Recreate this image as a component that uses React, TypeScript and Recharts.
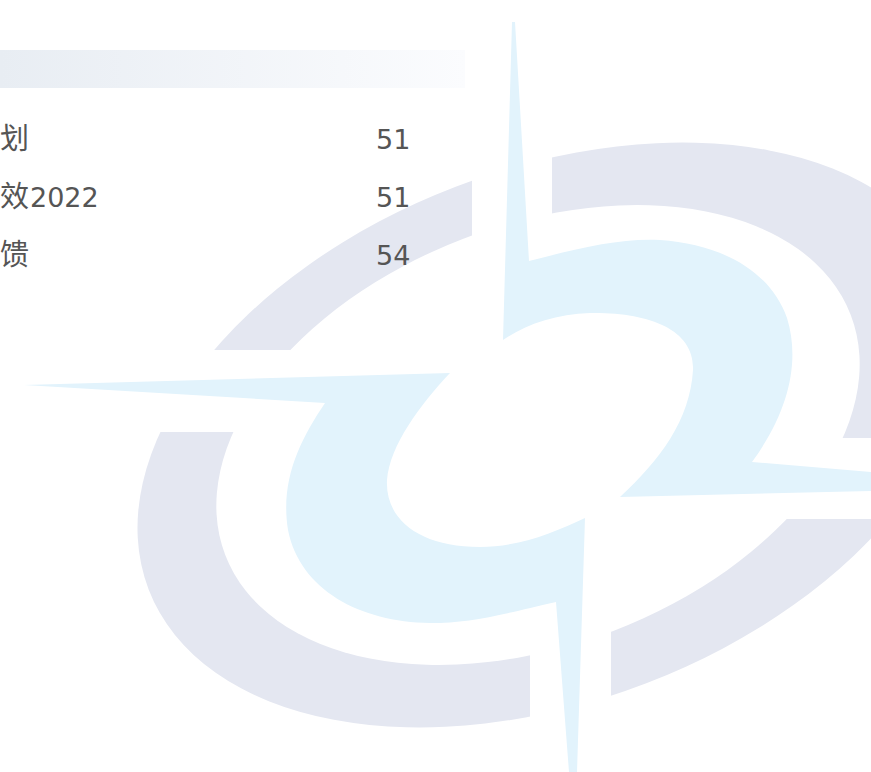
import React from 'react';
import { BarChart, Bar, XAxis, YAxis, LabelList, Customized } from 'recharts';

// Table rows (text as visible in the reference, left part cut off by the frame)
const categories = ['划', '效2022', '馈'];
const values = [51, 51, 54];

const data = categories.map((name, i) => ({ name, value: values[i] }));

const LATIN_FONT = '"DejaVu Sans", "Noto Sans CJK SC", sans-serif';
const CJK_FONT = '"Noto Sans CJK SC", "DejaVu Sans", sans-serif';
const TEXT_COLOR = '#555555';
const GREY = '#e4e7f1';
const BLUE = '#e2f3fc';

const Watermark = () => (
  <g>
    <defs>
      <linearGradient id="hdrGrad" x1="0" y1="0" x2="1" y2="0">
        <stop offset="0%" stopColor="#e8edf3" />
        <stop offset="100%" stopColor="#fbfcfe" />
      </linearGradient>
    </defs>
    {/* header band */}
    <rect x={0} y={50} width={465} height={38} fill="url(#hdrGrad)" />
    {/* grey ring */}
    <ellipse cx={551} cy={435} rx={431} ry={266} transform="rotate(-21 551 435)" fill={GREY} />
    <ellipse cx={538} cy={435} rx={335} ry={210} transform="rotate(-21 538 435)" fill="#ffffff" />
    {/* gaps in the ring */}
    <rect x={0} y={350} width={345} height={82} fill="#ffffff" />
    <rect x={472} y={100} width={80} height={170} fill="#ffffff" />
    <rect x={530} y={590} width={81} height={182} fill="#ffffff" />
    <rect x={780} y={438} width={91} height={81} fill="#ffffff" />
    {/* blue swirl, upper piece */}
    <path
      d="M 512,22 L 515,22 L 529,261 C 580,248 620,238 660,240 C 720,244 770,270 787,318 C 800,360 790,410 752,462 L 871,472 L 871,491 L 620,497 C 660,460 690,420 693,370 C 695,330 650,312 590,313 C 555,314 525,325 503,340 Z"
      fill={BLUE}
    />
    {/* blue swirl, lower piece */}
    <path
      d="M 24,385 L 450,373 C 420,405 390,445 387,480 C 385,520 420,547 480,547 C 520,547 555,532 585,518 L 577,772 L 569,772 L 556,602 C 500,615 470,623 430,623 C 360,622 300,590 288,530 C 280,480 300,440 325,403 Z"
      fill={BLUE}
    />
  </g>
);

const isCJK = (ch: string) => /[\u3400-\u9fff]/.test(ch);

const NameLabel = (props: any) => {
  const { y, height, value } = props;
  const cy = Number(y) + Number(height) / 2;
  const str = String(value);
  // split into CJK / non-CJK runs
  const runs: { text: string; cjk: boolean }[] = [];
  for (const ch of str) {
    const c = isCJK(ch);
    if (runs.length && runs[runs.length - 1].cjk === c) runs[runs.length - 1].text += ch;
    else runs.push({ text: ch, cjk: c });
  }
  return (
    <text x={0} y={cy + 9} fill={TEXT_COLOR} textAnchor="start">
      {runs.map((r, i) => (
        <tspan
          key={i}
          fontSize={r.cjk ? 29 : 27}
          fontFamily={r.cjk ? CJK_FONT : LATIN_FONT}
          dx={!r.cjk && i > 0 ? 1 : 0}
        >
          {r.text}
        </tspan>
      ))}
    </text>
  );
};

const ValueLabel = (props: any) => {
  const { y, height, value } = props;
  const cy = Number(y) + Number(height) / 2;
  return (
    <text x={376} y={cy + 9} fill={TEXT_COLOR} fontSize={27} fontFamily={LATIN_FONT} textAnchor="start">
      {value}
    </text>
  );
};

export default function App() {
  return (
    <div style={{ position: 'absolute', left: 0, top: 0, width: 871, height: 772, background: '#ffffff' }}>
      <BarChart
        width={871}
        height={772}
        data={data}
        layout="vertical"
        margin={{ top: 111, right: 0, bottom: 487, left: 0 }}
      >
        <Customized component={Watermark} />
        <XAxis type="number" hide domain={[0, 100]} />
        <YAxis type="category" dataKey="name" hide />
        <Bar dataKey="value" fill="none" isAnimationActive={false}>
          <LabelList dataKey="name" content={NameLabel} />
          <LabelList dataKey="value" content={ValueLabel} />
        </Bar>
      </BarChart>
    </div>
  );
}
